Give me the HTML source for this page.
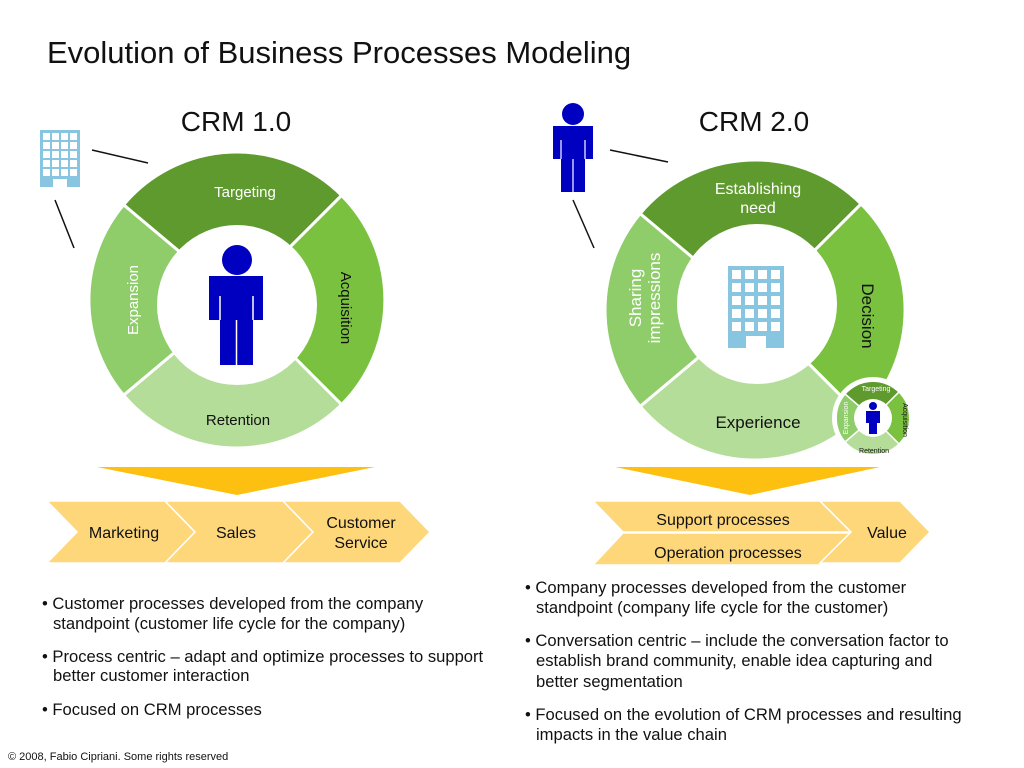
<!DOCTYPE html>
<html><head><meta charset="utf-8"><style>
body{margin:0;background:#fff;}
svg{display:block;font-family:"Liberation Sans",sans-serif;}
</style></head><body>
<svg width="1024" height="768" viewBox="0 0 1024 768" xmlns="http://www.w3.org/2000/svg">
<rect width="1024" height="768" fill="#fff"/>
<text x="47" y="63" font-size="31" fill="#111">Evolution of Business Processes Modeling</text>
<text x="236" y="131" font-size="28" text-anchor="middle" fill="#111">CRM 1.0</text>
<text x="754" y="131" font-size="28" text-anchor="middle" fill="#111">CRM 2.0</text>

<g stroke="#111" stroke-width="1.5">
<line x1="92" y1="150" x2="148" y2="163"/><line x1="55" y1="200" x2="74" y2="248"/>
<line x1="610" y1="150" x2="668" y2="162"/><line x1="573" y1="200" x2="594" y2="248"/>
</g>

<!-- CRM1 ring -->
<g stroke="#fff" stroke-width="3">
<path d="M237,300 L123.6,204.8 A148,148 0 0 1 341.6,195.4 Z" fill="#5f9a2e"/>
<path d="M237,300 L341.6,195.4 A148,148 0 0 1 341.6,404.6 Z" fill="#79c13f"/>
<path d="M237,300 L341.6,404.6 A148,148 0 0 1 123.6,395.2 Z" fill="#b5dd9a"/>
<path d="M237,300 L123.6,395.2 A148,148 0 0 1 123.6,204.8 Z" fill="#8fcc6a"/>
</g>
<circle cx="237" cy="305" r="80" fill="#fff"/>
<text x="245" y="197" font-size="15" fill="#fff" text-anchor="middle">Targeting</text>
<text x="238" y="425" font-size="15" fill="#111" text-anchor="middle">Retention</text>
<text transform="translate(341,308) rotate(90)" font-size="15" fill="#111" text-anchor="middle">Acquisition</text>
<text transform="translate(138,300) rotate(-90)" font-size="15" fill="#fff" text-anchor="middle">Expansion</text>
<g fill="#0000c0">
<circle cx="237" cy="260" r="15"/>
<rect x="209" y="276" width="54" height="44"/>
<rect x="220" y="318" width="33" height="47"/>
</g>
<g stroke="#fff" stroke-width="1.5"><line x1="220" y1="296" x2="220" y2="320"/><line x1="253" y1="296" x2="253" y2="320"/><line x1="236.5" y1="320" x2="236.5" y2="365"/></g>
<rect x="40" y="130" width="40" height="57" fill="#87c5e0"/>
<g fill="#fff">
<rect x="43" y="133" width="7" height="7"/><rect x="52" y="133" width="7" height="7"/><rect x="61" y="133" width="7" height="7"/><rect x="70" y="133" width="7" height="7"/>
<rect x="43" y="142" width="7" height="7"/><rect x="52" y="142" width="7" height="7"/><rect x="61" y="142" width="7" height="7"/><rect x="70" y="142" width="7" height="7"/>
<rect x="43" y="151" width="7" height="7"/><rect x="52" y="151" width="7" height="7"/><rect x="61" y="151" width="7" height="7"/><rect x="70" y="151" width="7" height="7"/>
<rect x="43" y="160" width="7" height="7"/><rect x="52" y="160" width="7" height="7"/><rect x="61" y="160" width="7" height="7"/><rect x="70" y="160" width="7" height="7"/>
<rect x="43" y="169" width="7" height="7"/><rect x="52" y="169" width="7" height="7"/><rect x="61" y="169" width="7" height="7"/><rect x="70" y="169" width="7" height="7"/>
<rect x="53" y="179" width="14" height="8"/>
</g>

<!-- CRM2 ring -->
<g stroke="#fff" stroke-width="3">
<path d="M755,310 L640.1,213.6 A150,150 0 0 1 861.1,203.9 Z" fill="#5f9a2e"/>
<path d="M755,310 L861.1,203.9 A150,150 0 0 1 861.1,416.1 Z" fill="#79c13f"/>
<path d="M755,310 L861.1,416.1 A150,150 0 0 1 640.1,406.4 Z" fill="#b5dd9a"/>
<path d="M755,310 L640.1,406.4 A150,150 0 0 1 640.1,213.6 Z" fill="#8fcc6a"/>
</g>
<circle cx="757" cy="304" r="80" fill="#fff"/>
<text x="758" y="194" font-size="16" fill="#fff" text-anchor="middle">Establishing</text>
<text x="758" y="213" font-size="16" fill="#fff" text-anchor="middle">need</text>
<text x="758" y="428" font-size="17" fill="#111" text-anchor="middle">Experience</text>
<text transform="translate(862,316) rotate(90)" font-size="17" fill="#111" text-anchor="middle">Decision</text>
<text transform="translate(641,298) rotate(-90)" font-size="17" fill="#fff" text-anchor="middle">Sharing</text>
<text transform="translate(660,298) rotate(-90)" font-size="17" fill="#fff" text-anchor="middle">impressions</text>
<rect x="728" y="266" width="56" height="82" fill="#87c5e0"/>
<g fill="#fff">
<rect x="732" y="270" width="9" height="9"/><rect x="745" y="270" width="9" height="9"/><rect x="758" y="270" width="9" height="9"/><rect x="771" y="270" width="9" height="9"/>
<rect x="732" y="283" width="9" height="9"/><rect x="745" y="283" width="9" height="9"/><rect x="758" y="283" width="9" height="9"/><rect x="771" y="283" width="9" height="9"/>
<rect x="732" y="296" width="9" height="9"/><rect x="745" y="296" width="9" height="9"/><rect x="758" y="296" width="9" height="9"/><rect x="771" y="296" width="9" height="9"/>
<rect x="732" y="309" width="9" height="9"/><rect x="745" y="309" width="9" height="9"/><rect x="758" y="309" width="9" height="9"/><rect x="771" y="309" width="9" height="9"/>
<rect x="732" y="322" width="9" height="9"/><rect x="745" y="322" width="9" height="9"/><rect x="758" y="322" width="9" height="9"/><rect x="771" y="322" width="9" height="9"/>
<rect x="746" y="336" width="20" height="12"/>
</g>
<g fill="#0000c0">
<circle cx="573" cy="114" r="11"/>
<rect x="553" y="126" width="40" height="33"/>
<rect x="561" y="157" width="24" height="35"/>
</g>
<g stroke="#fff" stroke-width="1.2"><line x1="561" y1="140" x2="561" y2="159"/><line x1="585" y1="140" x2="585" y2="159"/><line x1="573" y1="159" x2="573" y2="192"/></g>

<circle cx="873" cy="418" r="41" fill="#fff"/>
<g stroke="#fff" stroke-width="1.5">
<path d="M873,418 L845,394 A37,37 0 0 1 899,392 Z" fill="#5f9a2e"/>
<path d="M873,418 L899,392 A37,37 0 0 1 899,444 Z" fill="#79c13f"/>
<path d="M873,418 L899,444 A37,37 0 0 1 845,442 Z" fill="#b5dd9a"/>
<path d="M873,418 L845,442 A37,37 0 0 1 845,394 Z" fill="#8fcc6a"/>
</g>
<circle cx="873" cy="418" r="19" fill="#fff"/>
<text x="876" y="391" font-size="7" fill="#fff" text-anchor="middle">Targeting</text>
<text x="874" y="453" font-size="7" fill="#111" text-anchor="middle">Retention</text>
<text transform="translate(903,420) rotate(90)" font-size="7" fill="#111" text-anchor="middle">Acquisition</text>
<text transform="translate(848,418) rotate(-90)" font-size="7" fill="#fff" text-anchor="middle">Expansion</text>
<g fill="#0000c0"><circle cx="873" cy="406" r="4"/><rect x="866" y="411" width="14" height="12"/><rect x="869" y="422" width="8" height="12"/></g>

<polygon points="97,467 375,467 237,495" fill="#fdc010"/>
<polygon points="615,467 880,467 750,495" fill="#fdc010"/>

<g fill="#fdd77a" stroke="#fff" stroke-width="1.5">
<polygon points="47,501 165,501 195,532 165,563 47,563 77,532"/>
<polygon points="165,501 283,501 313,532 283,563 165,563 195,532"/>
<polygon points="283,501 400,501 430,532 400,563 283,563 313,532"/>
</g>
<g font-size="16" fill="#111" text-anchor="middle">
<text x="124" y="538">Marketing</text>
<text x="236" y="538">Sales</text>
<text x="361" y="528">Customer</text>
<text x="361" y="548">Service</text>
</g>
<g fill="#fdd77a" stroke="#fff" stroke-width="1.5">
<polygon points="593,501 820,501 851,532 623,532"/>
<polygon points="623,533 851,533 820,565 593,565"/>
<polygon points="820,501 900,501 930,532 900,563 820,563 851,532"/>
</g>
<g font-size="16" fill="#111" text-anchor="middle">
<text x="723" y="525">Support processes</text>
<text x="728" y="558">Operation processes</text>
<text x="887" y="538">Value</text>
</g>

<g font-size="16.6" fill="#111">
<text x="42" y="609">• Customer processes developed from the company</text>
<text x="53" y="629">standpoint (customer life cycle for the company)</text>
<text x="42" y="662">• Process centric – adapt and optimize processes to support</text>
<text x="53" y="681">better customer interaction</text>
<text x="42" y="715">• Focused on CRM processes</text>
<text x="525" y="593">• Company processes developed from the customer</text>
<text x="536" y="613">standpoint (company life cycle for the customer)</text>
<text x="525" y="646">• Conversation centric – include the conversation factor to</text>
<text x="536" y="666">establish brand community, enable idea capturing and</text>
<text x="536" y="687">better segmentation</text>
<text x="525" y="720">• Focused on the evolution of CRM processes and resulting</text>
<text x="536" y="740">impacts in the value chain</text>
</g>
<text x="8" y="760" font-size="11" fill="#111">© 2008, Fabio Cipriani. Some rights reserved</text>
</svg>
</body></html>
